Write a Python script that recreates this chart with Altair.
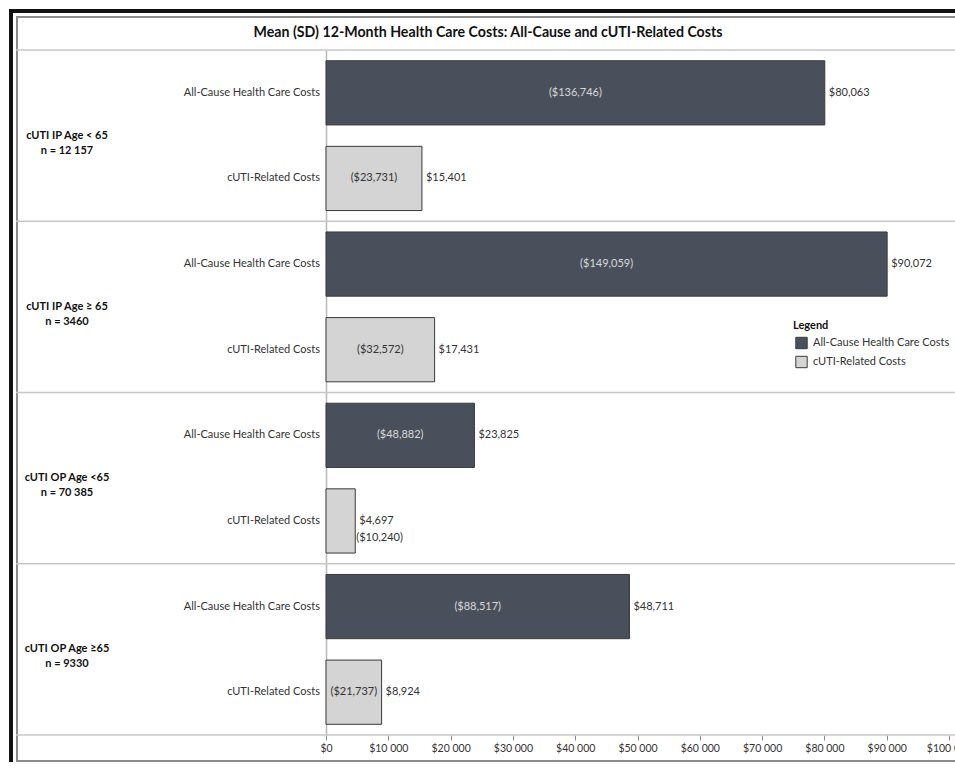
import altair as alt
import pandas as pd

# ---- data -------------------------------------------------------------
groups = [
    "cUTI IP Age < 65\nn = 12 157",
    "cUTI IP Age \u2265 65\nn = 3460",
    "cUTI OP Age <65\nn = 70 385",
    "cUTI OP Age \u226565\nn = 9330",
]
categories = ["All-Cause Health Care Costs", "cUTI-Related Costs"]
all_cause_mean = [80063, 90072, 23825, 48711]
all_cause_sd = [136746, 149059, 48882, 88517]
cuti_mean = [15401, 17431, 4697, 8924]
cuti_sd = [23731, 32572, 10240, 21737]
x_ticks = [0, 10000, 20000, 30000, 40000, 50000, 60000, 70000, 80000, 90000, 100000]
title_text = "Mean (SD) 12-Month Health Care Costs: All-Cause and cUTI-Related Costs"

# ---- table ------------------------------------------------------------
rows = []
for g, name in enumerate(groups):
    for c, cat in enumerate(categories):
        mean = all_cause_mean[g] if c == 0 else cuti_mean[g]
        sd = all_cause_sd[g] if c == 0 else cuti_sd[g]
        rows.append({
            "group": name,
            "category": cat,
            "mean": mean,
            "sd": sd,
            "row": 2 * g + c,
            # short bars carry their SD beside the bar instead of inside it
            "sd_inside": mean > 8000,
            "dark": c == 0,
        })
df = pd.DataFrame(rows)
group_df = pd.DataFrame({"group": groups, "gpos": [2 * i + 1 for i in range(len(groups))]})
sep_df = pd.DataFrame({"pos": [0, 2, 4, 6, 8]})
one = pd.DataFrame({"k": [0]})

W, H = 623, 685
RIGHT = W + 6  # right edge of the canvas, in plot coordinates
FONT = "Lato"
TXT = "#333333"
DARK = "#4a505b"
LIGHT = "#d4d4d4"

yscale = alt.Scale(domain=[0, 8], reverse=True, nice=False, zero=False)
xscale = alt.Scale(domain=[0, 100000], nice=False)

base = alt.Chart(df).transform_calculate(
    y0="datum.row + 0.125",
    y1="datum.row + 0.875",
    yc="datum.row + 0.5",
    half="datum.mean / 2",
    mean_lbl="format(datum.mean, '$,d')",
    sd_lbl="'(' + format(datum.sd, '$,d') + ')'",
)

bars = base.mark_bar(stroke="#3a3a3a", strokeWidth=1).encode(
    x=alt.X("mean:Q", scale=xscale,
            axis=alt.Axis(values=x_ticks, title=None, domain=False, grid=False,
                          tickColor="#8a8a8a", tickSize=5, labelPadding=3,
                          labelOverlap=False, labelFlush=False,
                          labelFont=FONT, labelFontSize=10.5, labelColor=TXT,
                          labelExpr="'$' + (datum.value >= 1000 ? floor(datum.value / 1000) + ' 000' : '0')")),
    x2=alt.value(0),
    y=alt.Y("y0:Q", scale=yscale, axis=alt.Axis(title=None, labels=False, ticks=False,
                                                 grid=False, domainColor="#b8b8b8", domainWidth=1.5)),
    y2="y1:Q",
    fill=alt.Fill("category:N",
                  scale=alt.Scale(domain=categories, range=[DARK, LIGHT]),
                  legend=alt.Legend(title="Legend", orient="none", legendX=467, legendY=270,
                                    symbolType="square", symbolSize=130, symbolOffset=2,
                                    symbolStrokeColor="#3a3a3a", symbolStrokeWidth=1,
                                    labelFont=FONT, labelFontSize=11, labelColor=TXT,
                                    labelOffset=5,
                                    titleFont=FONT, titleFontSize=11, titleColor="#111111",
                                    titleFontWeight="bold", rowPadding=2, titlePadding=5.5)),
)

mean_text = base.mark_text(align="left", baseline="middle", dx=4, font=FONT,
                           fontSize=11, color=TXT).encode(
    x=alt.X("mean:Q", scale=xscale), y=alt.Y("yc:Q", scale=yscale), text="mean_lbl:N")

sd_in = base.transform_filter("datum.sd_inside").mark_text(
    align="center", baseline="middle", font=FONT, fontSize=11).encode(
    x=alt.X("half:Q", scale=xscale), y=alt.Y("yc:Q", scale=yscale), text="sd_lbl:N",
    color=alt.condition("datum.dark", alt.value("#d8d8d8"), alt.value(TXT)))

sd_out = base.transform_filter("!datum.sd_inside").mark_text(
    align="left", baseline="middle", dx=1, dy=17, font=FONT, fontSize=11, color=TXT).encode(
    x=alt.X("mean:Q", scale=xscale), y=alt.Y("yc:Q", scale=yscale), text="sd_lbl:N")

cat_text = base.mark_text(align="right", baseline="middle", dx=-6, font=FONT,
                          fontSize=11, color=TXT).encode(
    x=alt.value(0), y=alt.Y("yc:Q", scale=yscale), text="category:N")

group_text = alt.Chart(group_df).mark_text(
    align="center", baseline="middle", lineBreak="\n", font=FONT, fontSize=11,
    fontWeight="bold", color="#111111", lineHeight=15).encode(
    x=alt.value(-259), y=alt.Y("gpos:Q", scale=yscale), text="group:N")

# separators between the groups, running across label column and plot
separators = alt.Chart(sep_df).mark_rule(color="#c8c8c8", strokeWidth=1.5).encode(
    x=alt.value(-310), x2=alt.value(RIGHT), y=alt.Y("pos:Q", scale=yscale))

# page frame: a heavy black outline with a thinner grey one just inside it,
# drawn as filled strips
frame = alt.Chart(one)


def strip(x0, x1, y0, y1, color):
    return frame.mark_rect(fill=color, strokeWidth=0).encode(
        x=alt.value(x0), x2=alt.value(x1), y=alt.value(y0), y2=alt.value(y1))


outer_left = strip(-317, -313, -41, H + 33, "#111111")
outer_top = strip(-317, RIGHT, -41, -37, "#111111")
inner_left = strip(-310, -308, -34, H + 27, "#8c8c8c")
inner_top = strip(-310, RIGHT, -34, -32, "#8c8c8c")
inner_bottom = strip(-310, RIGHT, H + 25, H + 27, "#8c8c8c")

title = frame.mark_text(align="center", baseline="middle", font=FONT,
                        fontSize=14.2, fontWeight="bold", color="#111111").encode(
    x=alt.value(162), y=alt.value(-17), text=alt.value(title_text))

chart = alt.layer(
    outer_left, outer_top, inner_left, inner_top, inner_bottom, separators,
    bars, mean_text, sd_in, sd_out, cat_text, group_text, title,
).properties(
    width=W, height=H,
    autosize=alt.AutoSizeParams(type="none"),
    padding={"left": 326, "top": 50, "right": 6, "bottom": 27},
    background="white",
).configure_view(strokeWidth=0)

chart.save("out.html", embed_options={"renderer": "svg", "actions": False})
